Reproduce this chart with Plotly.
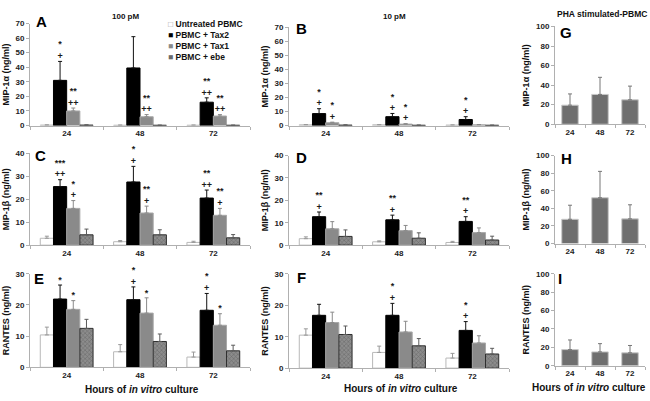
import plotly.graph_objects as go

W, H = 650, 401
times = ["24", "48", "72"]
series = ["Untreated PBMC", "PBMC + Tax2", "PBMC + Tax1", "PBMC + ebe"]

# ---- Panel A: MIP-1alpha, 100 pM (rows = series, cols = times)
A_mean = [[0.3, 0.2, 0.2], [31, 39.5, 16], [10, 6, 6.5], [0.3, 0.2, 0.2]]
A_err = [[0.1, 0.1, 0.1], [13, 21.5, 3], [2, 1.5, 1], [0.1, 0.0, 0.0]]
A_marks = [["", "", ""], ["*<br>+", "", "**<br>++"], ["**<br>++", "**<br>++", "**<br>++"], ["", "", ""]]

# ---- Panel B: MIP-1alpha, 10 pM
B_mean = [[0.5, 0.5, 0.3], [8.5, 6.3, 4.3], [2, 1, 0.5], [0.3, 0.2, 0.2]]
B_err = [[0.2, 0.1, 0.1], [3.5, 2.3, 2], [0.4, 0.3, 0.2], [0.1, 0.1, 0.0]]
B_marks = [["", "", ""], ["*<br>+", "*<br>+", "*<br>+"], ["*<br>+", "*<br>+", ""], ["", "", ""]]

# ---- Panel C: MIP-1beta, 100 pM
C_mean = [[3, 1.5, 1.2], [25.5, 27.5, 20.5], [16, 14, 13], [4.5, 4.5, 3.2]]
C_err = [[0.9, 0.5, 0.5], [3, 6.8, 3.5], [3.4, 3, 3], [2.5, 2.2, 1.4]]
C_marks = [["", "", ""], ["***<br>++", "*<br>+", "**<br>++"], ["*<br>+", "**<br>+", "**<br>+"], ["", "", ""]]

# ---- Panel D: MIP-1beta, 10 pM
D_mean = [[2.9, 1.5, 1.2], [12.7, 11.3, 10.6], [7.3, 6.5, 5.6], [3.9, 3.1, 2.3]]
D_err = [[0.8, 0.4, 0.5], [2.1, 2.1, 2.1], [3.2, 2.3, 2.1], [2.9, 2.4, 1.7]]
D_marks = [["", "", ""], ["**<br>+", "**<br>+", "**<br>+"], ["", "", ""], ["", "", ""]]

# ---- Panel E: RANTES, 100 pM
E_mean = [[10.4, 5, 3.3], [21.9, 21.7, 18.3], [18.6, 17.4, 13.5], [12.5, 8.3, 5.3]]
E_err = [[2.5, 2.3, 1.6], [4.5, 4.1, 5.4], [2.8, 4.9, 3.7], [2.9, 2.4, 1.8]]
E_marks = [["", "", ""], ["*", "*<br>+", "*<br>+"], ["*", "*", "*"], ["", "", ""]]

# ---- Panel F: RANTES, 10 pM
F_mean = [[10.5, 5, 3.2], [16.8, 16.8, 12], [14.5, 11.5, 8], [10.7, 7.1, 4.5]]
F_err = [[2, 2, 1.5], [3.5, 3.8, 2.8], [3.3, 3.4, 2.3], [2.7, 2.3, 1.8]]
F_marks = [["", "", ""], ["", "*<br>+", "*<br>+"], ["", "", ""], ["", "", ""]]

# ---- PHA stimulated PBMC
G_mean = [19.5, 30.5, 25]
G_err = [11.5, 17.5, 14]
H_mean = [27.5, 52, 28]
H_err = [16, 30, 16]
I_mean = [17.5, 15, 14]
I_err = [10.5, 9, 8]

FONT = "Liberation Sans, Arial, sans-serif"
fills = ["#ffffff", "#000000", "#8a8a8a", "#7c7c7c"]
outl = ["#b8b8b8", "#000000", "#a8a8a8", "#2e2e2e"]
errc = ["#999999", "#111111", "#8a8a8a", "#5a5a5a"]
AX = "#b0b0b0"


def px_x(p):
    return p / W


def px_y(p):
    return 1 - p / H


# panel: letter, data, x pixel span, y pixel span (top, bottom), ymax, dtick, ytitle, letter centre
panels = [
    ("A", (A_mean, A_err, A_marks), (30, 250), (20, 124.3), 70, 10, "MIP-1α (ng/ml)", (41, 17)),
    ("B", (B_mean, B_err, B_marks), (289, 509), (24, 124.3), 70, 10, "MIP-1α (ng/ml)", (301, 24)),
    ("G", (G_mean, G_err, None), (555, 645), (23, 123), 100, 20, "MIP-1α (ng/ml)", (566, 28)),
    ("C", (C_mean, C_err, C_marks), (30, 250), (152.7, 246.7), 40, 10, "MIP-1β (ng/ml)", (40, 154)),
    ("D", (D_mean, D_err, D_marks), (289, 509), (155, 246.7), 40, 10, "MIP-1β (ng/ml)", (301, 156)),
    ("H", (H_mean, H_err, None), (555, 645), (155, 245), 100, 20, "MIP-1β (ng/ml)", (566, 157)),
    ("E", (E_mean, E_err, E_marks), (30, 250), (276, 371.7), 30, 10, "RANTES (ng/ml)", (39, 280)),
    ("F", (F_mean, F_err, F_marks), (289, 509), (276, 372.5), 30, 10, "RANTES (ng/ml)", (301, 279)),
    ("I", (I_mean, I_err, None), (555, 645), (276, 370), 100, 20, "RANTES (ng/ml)", (560, 280)),
]

fig = go.Figure()
layout = {}
annotations = []

for k, (letter, data, xs, ys, ymax, dt, ytitle, lpos) in enumerate(panels, start=1):
    xid = "x" if k == 1 else f"x{k}"
    yid = "y" if k == 1 else f"y{k}"
    xkey = "xaxis" if k == 1 else f"xaxis{k}"
    ykey = "yaxis" if k == 1 else f"yaxis{k}"
    mean, err, marks = data
    if marks is not None:
        for j in range(4):
            bar = dict(
                x=times, y=mean[j], xaxis=xid, yaxis=yid, name=series[j],
                offsetgroup=str(j), showlegend=False,
                marker=dict(color=fills[j], line=dict(color=outl[j], width=1)),
                error_y=dict(type="data", array=err[j], symmetric=False,
                             arrayminus=[0, 0, 0], color=errc[j], thickness=1, width=2),
            )
            if j == 3:
                bar["marker"]["pattern"] = dict(shape="x", size=3, solidity=0.35,
                                                fgcolor="#4a4a4a", bgcolor="#8c8c8c")
            fig.add_trace(go.Bar(**bar))
        for j in range(4):
            tops = [m + e for m, e in zip(mean[j], err[j])]
            fig.add_trace(go.Scatter(
                x=times, y=tops, xaxis=xid, yaxis=yid, mode="text",
                text=marks[j], textposition="top center", offsetgroup=str(j),
                textfont=dict(family=FONT, size=9, color="#1a1a1a", weight="bold"),
                showlegend=False, hoverinfo="skip", cliponaxis=False,
            ))
    else:
        fig.add_trace(go.Bar(
            x=times, y=mean, xaxis=xid, yaxis=yid, width=0.55, showlegend=False,
            marker=dict(color="#6f6f6f", line=dict(color="#c8c8c8", width=1)),
            error_y=dict(type="data", array=err, symmetric=False, arrayminus=[0, 0, 0],
                         color="#777777", thickness=1, width=2),
        ))

    layout[xkey] = dict(
        domain=[px_x(xs[0]), px_x(xs[1])], anchor=yid, type="category",
        categoryorder="array", categoryarray=times,
        showline=True, linecolor=AX, linewidth=1, ticks="outside", tickson="boundaries",
        ticklen=3, tickcolor=AX, showgrid=False, zeroline=False,
        tickfont=dict(family=FONT, size=8, color="#222222", weight="bold"),
    )
    layout[ykey] = dict(
        domain=[px_y(ys[1]), px_y(ys[0])], anchor=xid, range=[0, ymax], dtick=dt,
        showline=True, linecolor=AX, linewidth=1, ticks="outside", ticklen=3,
        tickcolor=AX, showgrid=False, zeroline=False,
        tickfont=dict(family=FONT, size=8, color="#222222", weight="bold"),
        title=dict(text=ytitle, font=dict(family=FONT, size=9, color="#111111", weight="bold"),
                   standoff=4),
    )
    annotations.append(dict(
        text=letter, xref="paper", yref="paper", x=px_x(lpos[0]), y=px_y(lpos[1] + 1),
        xanchor="center", yanchor="middle", showarrow=False,
        font=dict(family=FONT, size=15, color="#000000", weight="bold"),
    ))

# column titles
for txt, cx, cy, fs in [("100 pM", 125, 13, 8), ("10 pM", 395, 13, 8),
                        ("PHA stimulated-PBMC", 602, 10, 8.5)]:
    annotations.append(dict(text=txt, xref="paper", yref="paper", x=px_x(cx), y=px_y(cy),
                            xanchor="center", yanchor="middle", showarrow=False,
                            font=dict(family=FONT, size=fs, color="#111111", weight="bold")))

# x-axis titles
for cx, cy in [(142, 394), (401, 393.5), (589, 392)]:
    annotations.append(dict(text="Hours of <i>in vitro</i> culture", xref="paper", yref="paper",
                            x=px_x(cx), y=px_y(cy), xanchor="center", yanchor="middle",
                            showarrow=False,
                            font=dict(family=FONT, size=10, color="#111111", weight="bold")))

# legend (text block built from series names)
sq = ["<span style='color:#a0a0a0'>□</span>", "<span style='color:#000000'>■</span>",
      "<span style='color:#8a8a8a'>■</span>", "<span style='color:#6a6a6a'>■</span>"]
leg = "<br>".join(f"{s} {n}" for s, n in zip(sq, series))
annotations.append(dict(text=leg, xref="paper", yref="paper", x=px_x(166), y=px_y(13.5),
                        xanchor="left", yanchor="top", align="left", showarrow=False,
                        font=dict(family=FONT, size=8.5, color="#111111", weight="bold")))

fig.update_layout(
    width=W, height=H, margin=dict(l=0, r=0, t=0, b=0),
    paper_bgcolor="white", plot_bgcolor="white",
    barmode="group", bargap=0.28, bargroupgap=0,
    scattermode="group", scattergap=0.28,
    annotations=annotations, showlegend=False,
    font=dict(family=FONT),
    **layout,
)

fig.write_html("out.html", config={"displayModeBar": False},
               post_script="document.body.style.margin='0';")
